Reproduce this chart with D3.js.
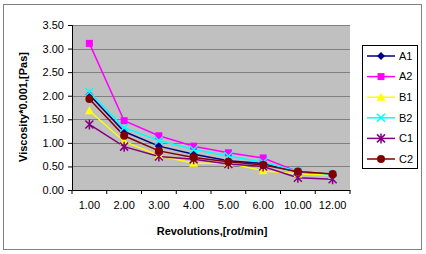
<!DOCTYPE html>
<html>
<head>
<meta charset="utf-8">
<script src="https://cdn.jsdelivr.net/npm/d3@7"></script>
<style>
  body { margin: 0; background: #fff; }
  svg { display: block; font-family: "Liberation Sans", Arial, sans-serif; }
</style>
</head>
<body>
<div class="chart"></div>
<script>
// data
const revolutions = ['1.00', '2.00', '3.00', '4.00', '5.00', '6.00', '10.00', '12.00']
const seriesNames = ['A1', 'A2', 'B1', 'B2', 'C1', 'C2']
const a1 = [2.02, 1.24, 0.93, 0.76, 0.62, 0.56, 0.38, 0.33]
const a2 = [3.11, 1.47, 1.15, 0.93, 0.79, 0.68, 0.39, 0.33]
const b1 = [1.68, 1.03, 0.73, 0.57, 0.57, 0.41, 0.34, 0.32]
const b2 = [2.08, 1.32, 1.05, 0.86, 0.72, 0.59, 0.40, 0.33]
const c1 = [1.39, 0.92, 0.71, 0.65, 0.55, 0.50, 0.26, 0.23]
const c2 = [1.93, 1.15, 0.83, 0.69, 0.60, 0.53, 0.39, 0.34]
const yTicks = [0, 0.5, 1, 1.5, 2, 2.5, 3, 3.5]

const colors = ['#000080', '#ff00ff', '#ffff00', '#00ffff', '#800080', '#800000']
const symbols = ['diamond', 'square', 'triangle', 'x', 'star', 'circle']
const allValues = [a1, a2, b1, b2, c1, c2]

const width = 426, height = 254
const margin = {top: 25, left: 72, right: 76, bottom: 64}

const svg = d3.select('.chart').append('svg').attr('width', width).attr('height', height)

// outer frame
svg.append('rect').attr('x', 3.5).attr('y', 4.5).attr('width', 418).attr('height', 245)
   .attr('fill', '#fff').attr('stroke', '#808080')

const x = d3.scaleBand().domain(revolutions).range([margin.left, width - margin.right]).padding(0)
const y = d3.scaleLinear().domain([0, 3.5]).range([height - margin.bottom, margin.top])

// plot area
svg.append('rect').attr('x', margin.left).attr('y', margin.top)
   .attr('width', x.range()[1] - margin.left).attr('height', y(0) - margin.top)
   .attr('fill', '#c0c0c0')

// gridlines
svg.append('g').selectAll('line').data(yTicks.slice(1)).join('line')
   .attr('x1', margin.left).attr('x2', x.range()[1])
   .attr('y1', d => Math.round(y(d)) + 0.5).attr('y2', d => Math.round(y(d)) + 0.5)
   .attr('stroke', '#808080')

// y axis
const yAxis = d3.axisLeft(y).tickValues(yTicks).tickFormat(d3.format('.2f')).tickSize(4).tickPadding(4)
const yg = svg.append('g').attr('transform', `translate(${margin.left},0)`).call(yAxis)
yg.selectAll('text').style('font-size', '11px').attr('fill', '#000')

// x axis, ticks between categories like excel
const xAxis = d3.axisBottom(x).tickSize(0).tickPadding(11)
const xg = svg.append('g').attr('transform', `translate(0,${y(0)})`).call(xAxis)
xg.selectAll('text').style('font-size', '11px').attr('fill', '#000')
const bounds = revolutions.map(d => x(d)).concat([x.range()[1]])
xg.selectAll('.bt').data(bounds).join('line').attr('class', 'bt')
  .attr('x1', d => d).attr('x2', d => d).attr('y1', 0).attr('y2', 4).attr('stroke', '#000')

// axis titles
svg.append('text').attr('x', (margin.left + x.range()[1]) / 2 + 1).attr('y', 235)
   .attr('text-anchor', 'middle').style('font-size', '11px').style('font-weight', 'bold')
   .text('Revolutions,[rot/min]')
svg.append('text').attr('transform', 'translate(27,107) rotate(-90)')
   .attr('text-anchor', 'middle').style('font-size', '11px').style('font-weight', 'bold')
   .text('Viscosity*0.001,[Pas]')

function marker(g, i) {
  const s = symbols[i], c = colors[i]
  if (s === 'diamond') g.append('path').attr('d', 'M0,-4L4,0L0,4L-4,0Z').attr('fill', c)
  else if (s === 'square') g.append('rect').attr('x', -3.5).attr('y', -3.5).attr('width', 7).attr('height', 7).attr('fill', c)
  else if (s === 'triangle') g.append('path').attr('d', 'M0,-4.5L4.5,3.5L-4.5,3.5Z').attr('fill', c)
  else if (s === 'x') g.append('path').attr('d', 'M-4,-4L4,4M-4,4L4,-4').attr('stroke', c).attr('stroke-width', 1.5)
  else if (s === 'star') g.append('path').attr('d', 'M-4,-4L4,4M-4,4L4,-4M0,-5L0,5').attr('stroke', c).attr('stroke-width', 1.5)
  else g.append('circle').attr('r', 4).attr('fill', c)
}

const line = d3.line().x((d, i) => x(revolutions[i]) + x.bandwidth() / 2).y(d => y(d))

// draw series in reverse so A1 ends on top like excel
allValues.forEach((vals, i) => {
  svg.append('path').datum(vals).attr('d', line).attr('fill', 'none')
     .attr('stroke', colors[i]).attr('stroke-width', 1.5)
})
allValues.forEach((vals, i) => {
  vals.forEach((v, j) => {
    const g = svg.append('g').attr('transform', `translate(${x(revolutions[j]) + x.bandwidth() / 2},${y(v)})`)
    marker(g, i)
  })
})

// legend
const lg = svg.append('g')
lg.append('rect').attr('x', 362.5).attr('y', 45.5).attr('width', 55).attr('height', 123)
  .attr('fill', '#fff').attr('stroke', '#000')
seriesNames.forEach((name, i) => {
  const ly = 56 + i * 20.6
  lg.append('line').attr('x1', 367).attr('x2', 395).attr('y1', ly).attr('y2', ly)
    .attr('stroke', colors[i]).attr('stroke-width', 1.5)
  marker(lg.append('g').attr('transform', `translate(381,${ly})`), i)
  lg.append('text').attr('x', 399).attr('y', ly).attr('dy', '0.35em')
    .style('font-size', '11px').text(name)
})
</script>
</body>
</html>
